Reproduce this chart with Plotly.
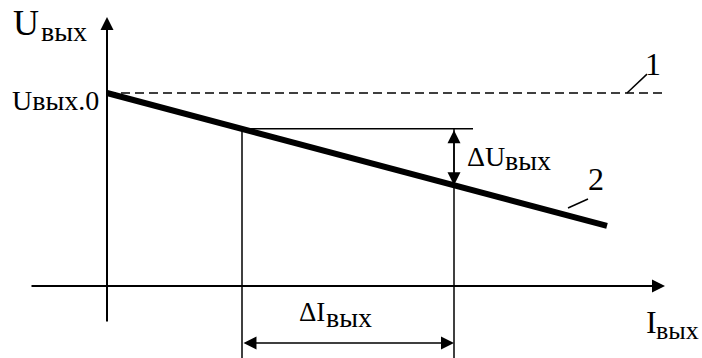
import plotly.graph_objects as go

# ---- data (arbitrary units: I along x, U along y) ----
I_line2 = [0.0, 10.0]          # characteristic 2 (load line)
U_line2 = [10.0, 3.11]
I_line1 = [0.0, 11.16]         # characteristic 1 (ideal, dashed)
U_line1 = [10.0, 10.0]
U0 = 10.0                      # Uвых.0
I1, I2 = 2.7, 6.94             # two load currents
U1, U2 = 8.15, 5.22            # output voltage at I1 and I2
I_ref_end = 7.32               # end of horizontal reference line at U1
U_bottom = -3.73               # lower end of the vertical guide lines
U_dI = -2.95                   # level of the ΔI dimension arrow
x_axis = [-1.54, 11.16]        # I axis extent (arrow tip at the end)
y_axis = [-1.92, 13.94]        # U axis extent (arrow tip at the end)
lead1_I, lead1_U = [10.4, 10.8], [10.0, 10.98]
lead2_I, lead2_U = [9.22, 9.62], [4.04, 4.51]

FONT = "Liberation Serif, Times New Roman, serif"
BLACK = "black"

fig = go.Figure()

def seg(xs, ys, w=1.5, dash=None):
    fig.add_trace(go.Scatter(x=xs, y=ys, mode="lines",
                             line=dict(color=BLACK, width=w, dash=dash),
                             hoverinfo="skip", showlegend=False))

# characteristic lines
seg(I_line1, U_line1, 1.5, "9px,5px")
seg(I_line2, U_line2, 6)
# guides
seg([I1, I_ref_end], [U1, U1])
seg([I1, I1], [U1, U_bottom])
seg([I2, I2], [U1, U_bottom])
# leaders
seg(lead1_I, lead1_U, 1.5)
seg(lead2_I, lead2_U, 1.5)

def arrow(x, y, ax, ay, w, size, both=False):
    fig.add_annotation(x=x, y=y, ax=ax, ay=ay, xref="x", yref="y",
                       axref="x", ayref="y", text="", showarrow=True,
                       arrowhead=2, arrowsize=size, arrowwidth=w,
                       arrowcolor=BLACK, standoff=0, startstandoff=0,
                       arrowside="end+start" if both else "end",
                       startarrowhead=2, startarrowsize=size)

# axes with arrows
arrow(x_axis[1], 0, x_axis[0], 0, 2, 1.3)
arrow(0, y_axis[1], 0, y_axis[0], 2, 1.3)
# dimension arrows
arrow(I2, U2, I2, U1, 1.5, 1.73, both=True)
arrow(I2, U_dI, I1, U_dI, 1.5, 1.73, both=True)

def label(text, x, y, size, xanchor="left"):
    fig.add_annotation(x=x, y=y, xref="x", yref="y", text=text,
                       showarrow=False, xanchor=xanchor, yanchor="bottom",
                       borderpad=0, borderwidth=0,
                       font=dict(family=FONT, size=size, color=BLACK))

label("U", -1.89, 12.60, 36)
label("вых", -1.33, 12.40, 28)
label("Uвых.0", -1.9, 8.79, 28)
label("1", 10.92, 10.575, 32, "center")
label("2", 9.78, 4.62, 32, "center")
label("ΔU", 7.2, 5.93, 28)
label("вых", 7.96, 5.72, 28)
label("ΔI", 3.84, -2.14, 27)
label("вых", 4.38, -2.42, 28)
label("I", 10.78, -2.80, 32)
label("вых", 10.98, -3.07, 26)

fig.update_xaxes(visible=False, range=[-2.14, 11.9], fixedrange=True)
fig.update_yaxes(visible=False, range=[-3.731, 14.819], fixedrange=True)
fig.update_layout(width=702, height=358, margin=dict(l=0, r=0, t=0, b=0),
                  plot_bgcolor="white", paper_bgcolor="white",
                  showlegend=False)

fig.write_html("out.html", config={"displayModeBar": False},
               post_script="document.body.style.margin='0';")
